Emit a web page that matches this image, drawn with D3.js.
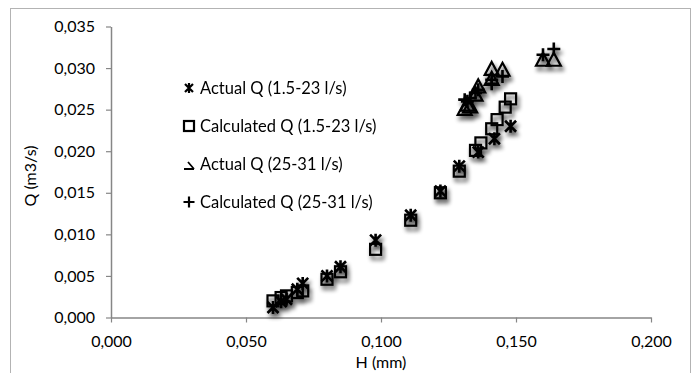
<!DOCTYPE html>
<html>
<head>
<meta charset="utf-8">
<script src="https://cdn.jsdelivr.net/npm/d3@7"></script>
<style>
  html, body { margin: 0; padding: 0; background: #fff; }
  svg { display: block; }
  text { font-family: Lato, "Open Sans", sans-serif; fill: #000; }
</style>
</head>
<body>
<svg id="chart" width="694" height="373"></svg>
<script>
// Discharge Q (m3/s) against head H, four series
const actualSmallH = [0.060, 0.063, 0.065, 0.069, 0.071, 0.080, 0.085, 0.098, 0.111, 0.122, 0.129, 0.136, 0.142, 0.148];
const actualSmallQ = [0.0012, 0.0019, 0.0022, 0.0034, 0.0041, 0.0050, 0.0061, 0.0093, 0.0123, 0.0152, 0.0182, 0.0199, 0.0215, 0.0230];

const calcSmallH = [0.060, 0.063, 0.065, 0.069, 0.071, 0.080, 0.085, 0.098, 0.111, 0.122, 0.129, 0.135, 0.137, 0.141, 0.143, 0.146, 0.148];
const calcSmallQ = [0.0020, 0.0024, 0.0026, 0.0030, 0.0032, 0.0046, 0.0055, 0.0082, 0.0117, 0.0150, 0.0176, 0.0201, 0.0210, 0.0227, 0.0238, 0.0253, 0.0263];

const actualLargeH = [0.131, 0.132, 0.133, 0.135, 0.136, 0.141, 0.141, 0.145, 0.160, 0.164];
const actualLargeQ = [0.0251, 0.0256, 0.0254, 0.0268, 0.0278, 0.0287, 0.0299, 0.0298, 0.0310, 0.0310];

const calcLargeH = [0.131, 0.132, 0.133, 0.135, 0.136, 0.141, 0.141, 0.145, 0.160, 0.164];
const calcLargeQ = [0.0262, 0.0260, 0.0264, 0.0270, 0.0274, 0.0281, 0.0286, 0.0290, 0.0316, 0.0323];

const seriesNames = ["Actual Q (1.5-23 l/s)", "Calculated Q (1.5-23 l/s)", "Actual Q (25-31 l/s)", "Calculated Q (25-31 l/s)"];
const xTicks = [0, 0.05, 0.10, 0.15, 0.20];
const yTicks = [0, 0.005, 0.010, 0.015, 0.020, 0.025, 0.030, 0.035];

const svg = d3.select("#chart");
const fmt = v => d3.format(".3f")(v).replace(".", ",");
const fontSize = "16px";

// outer chart frame
svg.append("rect").attr("x", 10.5).attr("y", 8.5).attr("width", 680).attr("height", 400)
  .attr("fill", "#fff").attr("stroke", "#b3b3b3").attr("stroke-width", 1);

const x = d3.scaleLinear().domain([0, 0.2]).range([111, 651]);
const y = d3.scaleLinear().domain([0, 0.035]).range([317.5, 26.5]);

// soft drop shadow under the markers
const defs = svg.append("defs");
const f = defs.append("filter").attr("id", "shadow")
  .attr("x", "-50%").attr("y", "-50%").attr("width", "200%").attr("height", "200%");
f.append("feGaussianBlur").attr("in", "SourceAlpha").attr("stdDeviation", 2.2).attr("result", "b");
f.append("feOffset").attr("in", "b").attr("dx", 2).attr("dy", 3.5).attr("result", "o");
f.append("feComponentTransfer").attr("in", "o").attr("result", "s")
  .append("feFuncA").attr("type", "linear").attr("slope", 0.7);
const m = f.append("feMerge");
m.append("feMergeNode").attr("in", "s");
m.append("feMergeNode").attr("in", "SourceGraphic");

// axes
const axisColor = "#868686";
const xAxis = svg.append("g").attr("transform", `translate(0,${y(0)})`)
  .call(d3.axisBottom(x).tickValues(xTicks).tickFormat(fmt).tickSize(5).tickSizeOuter(0));
const yAxis = svg.append("g").attr("transform", `translate(${x(0)},0)`)
  .call(d3.axisLeft(y).tickValues(yTicks).tickFormat(fmt).tickSize(5).tickSizeOuter(0));
[xAxis, yAxis].forEach(g => {
  g.select(".domain").attr("stroke", axisColor).attr("stroke-width", 1.5);
  g.selectAll(".tick line").attr("stroke", axisColor).attr("stroke-width", 1.2);
  g.selectAll(".tick text").style("font-family", "Lato, sans-serif").style("font-size", fontSize).attr("fill", "#000");
});
xAxis.selectAll(".tick text").attr("y", 18).attr("dy", "0.71em");
yAxis.selectAll(".tick text").attr("x", -16);

// axis titles
svg.append("text").attr("x", x(0.1)).attr("y", 368).attr("text-anchor", "middle")
  .style("font-size", fontSize).text("H (mm)");
svg.append("text").attr("transform", `translate(36,${(y(0) + y(0.035)) / 2 + 4}) rotate(-90)`)
  .attr("text-anchor", "middle").style("font-size", fontSize).text("Q (m3/s)");

// marker shapes
function star(g, s, w = 2.6) {
  const r = s / 2;
  g.append("path").attr("d", `M${-r},${-r}L${r},${r}M${-r},${r}L${r},${-r}M0,${-r - 1}L0,${r + 1}`)
    .attr("stroke", "#000").attr("stroke-width", w).attr("fill", "none");
}
function square(g, s) {
  const r = s / 2;
  g.append("rect").attr("x", -r).attr("y", -r).attr("width", s).attr("height", s)
    .attr("stroke", "#000").attr("stroke-width", 2.2).attr("fill", "none");
}
function triangle(g, s) {
  const r = s / 2;
  g.append("path").attr("d", `M0,${-r - 1}L${r + 1},${r}L${-r - 1},${r}Z`)
    .attr("stroke", "#000").attr("stroke-width", 2.2).attr("fill", "none").attr("stroke-linejoin", "miter");
}
function plus(g, s, w = 2.6) {
  const r = s / 2 + 1;
  g.append("path").attr("d", `M${-r},0L${r},0M0,${-r}L0,${r}`)
    .attr("stroke", "#000").attr("stroke-width", w).attr("fill", "none");
}

const series = [
  { H: actualSmallH, Q: actualSmallQ, draw: star, size: 11 },
  { H: calcSmallH, Q: calcSmallQ, draw: square, size: 11 },
  { H: actualLargeH, Q: actualLargeQ, draw: triangle, size: 12 },
  { H: calcLargeH, Q: calcLargeQ, draw: plus, size: 11 }
];

const plot = svg.append("g").attr("filter", "url(#shadow)");
series.forEach(sr => {
  const pts = sr.H.map((h, i) => ({ h, q: sr.Q[i] }));
  plot.append("g").selectAll("g").data(pts).join("g")
    .attr("transform", d => `translate(${x(d.h)},${y(d.q)})`)
    .each(function () { sr.draw(d3.select(this), sr.size); });
});

// legend
const legend = svg.append("g").attr("transform", "translate(189,0)");
const rowsY = [88, 126, 164, 202];
seriesNames.forEach((name, i) => {
  const row = legend.append("g").attr("transform", `translate(0,${rowsY[i]})`);
  if (i === 0) star(row, 8, 2.2);
  if (i === 1) square(row, 10);
  if (i === 2) {
    row.append("path").attr("d", "M-5,5L5,5M-1,-2L5,5")
      .attr("stroke", "#000").attr("stroke-width", 1.8).attr("fill", "none");
  }
  if (i === 3) plus(row, 9, 2.2);
  row.append("text").attr("x", 11).attr("y", 6).style("font-size", "16.5px").text(name);
});
</script>
</body>
</html>
